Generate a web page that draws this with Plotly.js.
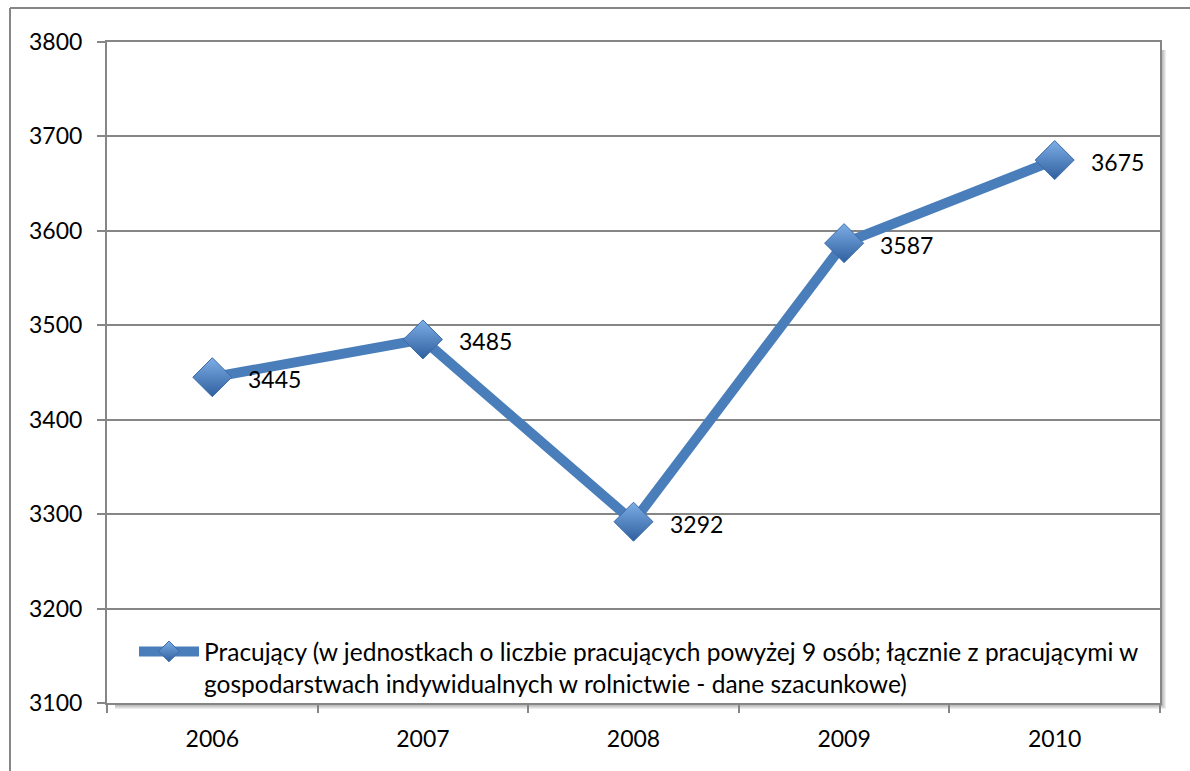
<!DOCTYPE html>
<html><head><meta charset="utf-8">
<script src="https://cdn.plot.ly/plotly-3.0.1.min.js"></script>
<style>html,body{margin:0;padding:0;background:#fff;}#chart{width:1190px;height:771px;}</style>
</head><body><div id="chart"></div>
<script>
const years = ['2006', '2007', '2008', '2009', '2010'];
const values = [3445, 3485, 3292, 3587, 3675];
const seriesName = 'Pracujący (w jednostkach o liczbie pracujących powyżej 9 osób; łącznie z pracującymi w<br>gospodarstwach indywidualnych w rolnictwie - dane szacunkowe)';
const yTicks = [3100, 3200, 3300, 3400, 3500, 3600, 3700, 3800];

const W = 1190, H = 771, L = 107, R = 30, T = 42, B = 68;
const pw = W - L - R, ph = H - T - B;
const px = v => (v - L) / pw;
const py = v => (H - B - v) / ph;

const shapes = [];
// plot area shadow
for (let i = 1; i <= 6; i++) {
  shapes.push({type:'rect', xref:'paper', yref:'paper', layer:'below',
    x0: 1, x1: 1 + i/pw, y0: -i/ph, y1: 1 - 8/ph,
    line:{width:0}, fillcolor:'rgba(0,0,0,0.07)'});
  shapes.push({type:'rect', xref:'paper', yref:'paper', layer:'below',
    x0: 8/pw, x1: 1, y0: -i/ph, y1: 0,
    line:{width:0}, fillcolor:'rgba(0,0,0,0.07)'});
}
// outer chart border (left and top)
shapes.push({type:'line', xref:'paper', yref:'paper', x0: px(10), x1: px(10), y0: py(H+5), y1: py(8), line:{color:'#868686', width:2}});
shapes.push({type:'line', xref:'paper', yref:'paper', x0: px(10), x1: px(W+5), y0: py(8), y1: py(8), line:{color:'#868686', width:2}});

const labelFont = {family:'Lato, sans-serif', size:23, color:'#000'};
const annotations = years.map((yr, i) => ({
  x: i, y: values[i], xref:'x', yref:'y', text: String(values[i]),
  showarrow:false, xanchor:'left', yanchor:'middle', xshift:34, yshift:-2,
  font: labelFont
}));

const trace = {
  x: years, y: values, type:'scatter', mode:'lines+markers',
  name: seriesName,
  line:{color:'#4A7EBB', width:10},
  marker:{symbol:'diamond', size:30, color:'#7EAEE6',
    gradient:{type:'vertical', color:'#2F5F9E'},
    line:{color:'#3A6BA8', width:1}},
  cliponaxis:false
};

const layout = {
  width: W, height: H,
  margin:{l:L, r:R, t:T, b:B, pad:0},
  paper_bgcolor:'#fff', plot_bgcolor:'#fff',
  font:{family:'Lato, sans-serif', size:23, color:'#000'},
  showlegend:true,
  legend:{x: px(134), y: py(706), xanchor:'left', yanchor:'bottom', valign:'top',
    bgcolor:'rgba(0,0,0,0)', itemwidth:60, tracegroupgap:0,
    font:{family:'Lato, sans-serif', size:24.5, color:'#000'}},
  xaxis:{type:'category', range:[-0.5, 4.5], showgrid:false, showline:true, mirror:true,
    linecolor:'#868686', linewidth:2, ticks:'outside', tickson:'boundaries',
    ticklen:8, tickcolor:'#868686', tickwidth:2, ticklabelstandoff:14,
    tickfont:labelFont, fixedrange:true},
  yaxis:{range:[3100, 3800], tickvals:yTicks, ticktext:yTicks.map(String),
    showgrid:true, gridcolor:'#868686', gridwidth:2,
    showline:true, mirror:true, linecolor:'#868686', linewidth:2,
    ticks:'outside', ticklen:8, tickcolor:'#868686', tickwidth:2,
    ticklabelstandoff:10, zeroline:false,
    tickfont:labelFont, fixedrange:true},
  shapes: shapes,
  annotations: annotations
};

Plotly.newPlot('chart', [trace], layout, {displayModeBar:false, staticPlot:true});
</script>
</body></html>
